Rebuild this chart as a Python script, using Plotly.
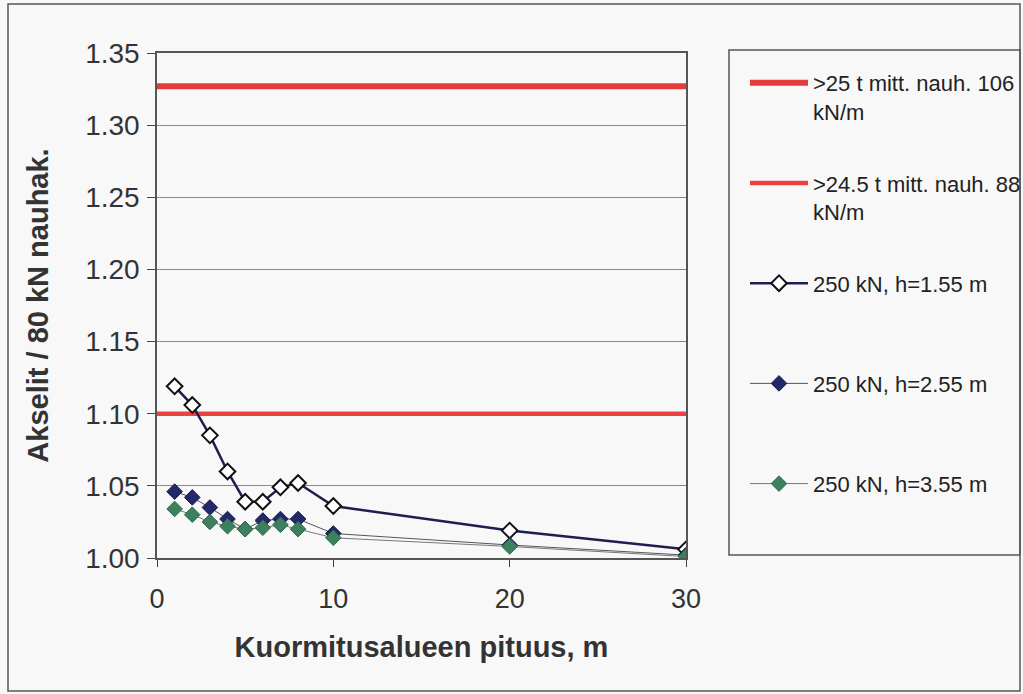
import plotly.graph_objects as go

# ---- data ----
x_len = [1, 2, 3, 4, 5, 6, 7, 8, 10, 20, 30]
h155 = [1.119, 1.106, 1.085, 1.060, 1.039, 1.039, 1.049, 1.052, 1.036, 1.019, 1.006]
h255 = [1.046, 1.042, 1.035, 1.027, 1.020, 1.026, 1.027, 1.027, 1.017, 1.009, 1.002]
h355 = [1.034, 1.030, 1.025, 1.022, 1.020, 1.021, 1.023, 1.020, 1.014, 1.008, 1.001]
limit_x = [0, 30]
limit_106 = [1.327, 1.327]
limit_88 = [1.100, 1.100]
y_ticks = [1.00, 1.05, 1.10, 1.15, 1.20, 1.25, 1.30, 1.35]
x_ticks = [0, 10, 20, 30]

names = [">25 t mitt. nauh. 106<br>kN/m",
         ">24.5 t mitt. nauh. 88<br>kN/m",
         "250 kN, h=1.55 m<br> ",
         "250 kN, h=2.55 m<br> ",
         "250 kN, h=3.55 m"]

FONT = "Liberation Sans, Arial, sans-serif"
W, H = 1023, 694
L, R, T, B = 157, 337, 53, 136
pw, ph = W - L - R, H - T - B

def px(x):
    return (x - L) / pw

def py(y):
    return (H - B - y) / ph

fig = go.Figure()
fig.add_trace(go.Scatter(x=limit_x, y=limit_106, mode="lines", name=names[0],
                         line=dict(color="#e53b3b", width=6), legendgroup="a"))
fig.add_trace(go.Scatter(x=limit_x, y=limit_88, mode="lines", name=names[1],
                         line=dict(color="#ec4242", width=4.5), legendgroup="b"))
fig.add_trace(go.Scatter(x=x_len, y=h155, mode="lines+markers", name=names[2],
                         line=dict(color="#1e1e50", width=2.5),
                         marker=dict(symbol="diamond", size=12, color="#ffffff",
                                     line=dict(color="#111111", width=2)),
                         legendgroup="c"))
fig.add_trace(go.Scatter(x=x_len, y=h255, mode="lines+markers", name=names[3],
                         line=dict(color="#555555", width=1),
                         marker=dict(symbol="diamond", size=12, color="#23286b",
                                     line=dict(color="#1a1a40", width=1)),
                         legendgroup="d"))
fig.add_trace(go.Scatter(x=x_len, y=h355, mode="lines+markers", name=names[4],
                         line=dict(color="#777777", width=1),
                         marker=dict(symbol="diamond", size=12, color="#3d805e",
                                     line=dict(color="#2e6a4c", width=1)),
                         legendgroup="e"))

shapes = [
    # outer chart frame
    dict(type="rect", xref="paper", yref="paper", x0=px(8), x1=px(1020), y0=py(691), y1=py(4),
         line=dict(color="#555555", width=1.5), layer="below"),
    # legend box
    dict(type="rect", xref="paper", yref="paper", x0=px(729), x1=px(1020), y0=py(555), y1=py(50),
         line=dict(color="#555555", width=1.5), layer="below"),
]

fig.update_layout(
    width=W, height=H,
    margin=dict(l=L, r=R, t=T, b=B),
    paper_bgcolor="#f8f8f8", plot_bgcolor="#f8f8f8",
    font=dict(family=FONT, color="#222222"),
    shapes=shapes,
    showlegend=True,
    legend=dict(xref="container", yref="container", x=745 / W, y=1 - 62 / H,
                xanchor="left", yanchor="top",
                font=dict(size=22, color="#222222", family=FONT),
                bgcolor="rgba(0,0,0,0)", borderwidth=0,
                tracegroupgap=40, valign="top", itemwidth=58,
                traceorder="grouped", maxheight=640),
    xaxis=dict(range=[0, 30], tickvals=x_ticks, ticks="outside", ticklen=7,
               tickcolor="#444444", showline=True, linecolor="#555555", linewidth=1.5,
               mirror=True, showgrid=False, zeroline=False,
               tickfont=dict(size=27, color="#333333"), ticklabelstandoff=9,
               title=dict(text="<b>Kuormitusalueen pituus, m</b>",
                          font=dict(size=29, color="#333333"), standoff=24)),
    yaxis=dict(range=[1.0, 1.35], tickvals=y_ticks, tickformat=".2f", ticks="outside",
               ticklen=8, tickcolor="#444444", showline=True, linecolor="#555555",
               linewidth=1.5, mirror=True, showgrid=True, gridcolor="#8a8a8a",
               gridwidth=1, zeroline=False,
               tickfont=dict(size=28, color="#333333"), ticklabelstandoff=2,
               title=dict(text="<b>Akselit / 80 kN nauhak.</b>",
                          font=dict(size=29, color="#333333"), standoff=28)),
)

fig.write_html("out.html")
